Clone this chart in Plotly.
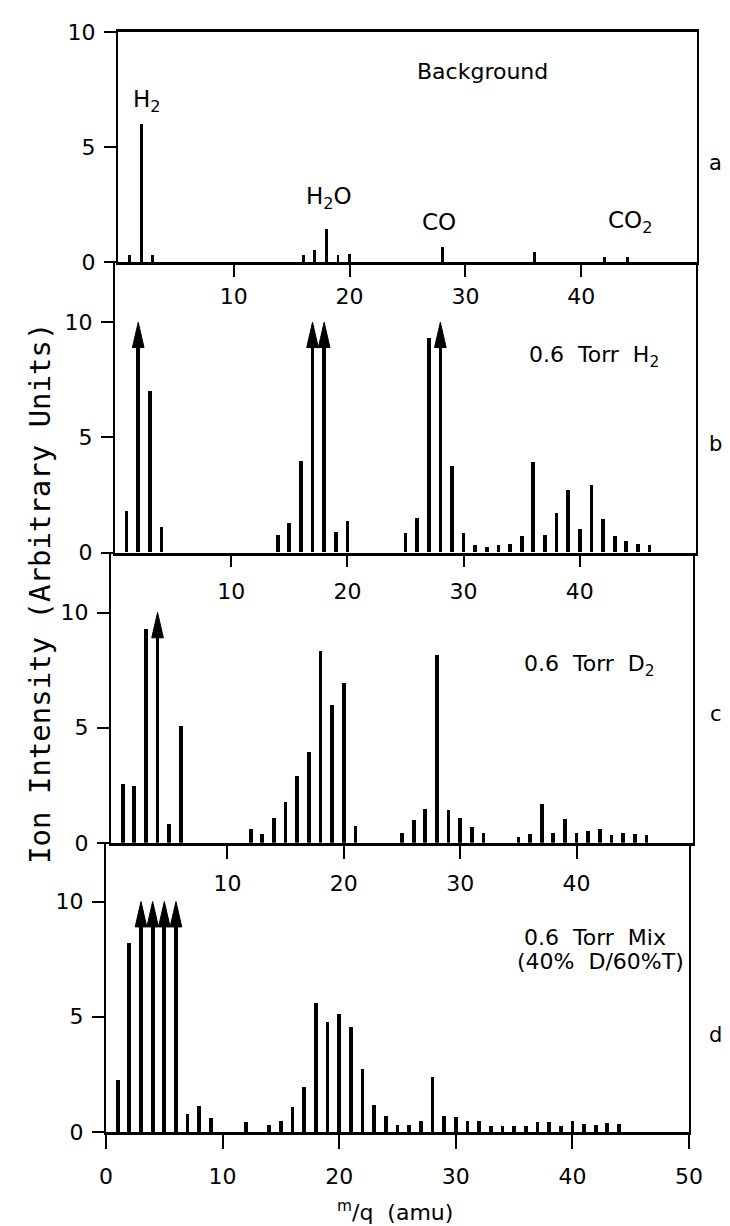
import plotly.graph_objects as go

# ---------------- data ----------------
a_mass = [1, 2, 3, 16, 17, 18, 19, 20, 28, 36, 42, 44]
a_int = [0.3, 6.0, 0.3, 0.3, 0.55, 1.45, 0.3, 0.35, 0.65, 0.45, 0.25, 0.25]
a_off = []

b_mass = [1, 2, 3, 4, 14, 15, 16, 17, 18, 19, 20, 25, 26, 27, 28, 29, 30, 31, 32, 33,
          34, 35, 36, 37, 38, 39, 40, 41, 42, 43, 44, 45, 46]
b_int = [1.8, 10, 7.0, 1.1, 0.75, 1.25, 3.95, 10, 10, 0.9, 1.35, 0.85, 1.5, 9.3, 10, 3.75,
         0.85, 0.3, 0.25, 0.3, 0.35, 0.7, 3.9, 0.75, 1.7, 2.7, 1.0, 2.9, 1.45, 0.7, 0.5, 0.35, 0.3]
b_off = [2, 17, 18, 28]

c_mass = [1, 2, 3, 4, 5, 6, 12, 13, 14, 15, 16, 17, 18, 19, 20, 21, 25, 26, 27, 28, 29, 30,
          31, 32, 35, 36, 37, 38, 39, 40, 41, 42, 43, 44, 45, 46]
c_int = [2.55, 2.5, 9.3, 10, 0.85, 5.1, 0.6, 0.4, 1.1, 1.8, 2.9, 3.95, 8.35, 6.0, 6.95, 0.75,
         0.45, 1.0, 1.5, 8.15, 1.45, 1.1, 0.7, 0.45, 0.25, 0.4, 1.7, 0.45, 1.05, 0.45, 0.55,
         0.6, 0.35, 0.45, 0.4, 0.35]
c_off = [4]

d_mass = [1, 2, 3, 4, 5, 6, 7, 8, 9, 12, 14, 15, 16, 17, 18, 19, 20, 21, 22, 23, 24, 25, 26,
          27, 28, 29, 30, 31, 32, 33, 34, 35, 36, 37, 38, 39, 40, 41, 42, 43, 44]
d_int = [2.25, 8.2, 10, 10, 10, 10, 0.8, 1.15, 0.6, 0.45, 0.3, 0.5, 1.1, 1.95, 5.6, 4.8, 5.15,
         4.55, 2.75, 1.2, 0.7, 0.3, 0.3, 0.5, 2.4, 0.7, 0.65, 0.5, 0.5, 0.25, 0.25, 0.25, 0.25,
         0.45, 0.45, 0.25, 0.5, 0.35, 0.3, 0.4, 0.35]
d_off = [3, 4, 5, 6]

panel_letters = ["a", "b", "c", "d"]
panel_titles = [["Background"], ["0.6  Torr  H<sub>2</sub>"], ["0.6  Torr  D<sub>2</sub>"],
                ["0.6  Torr  Mix", "(40%  D/60%T)"]]
species = ["H<sub>2</sub>", "H<sub>2</sub>O", "CO", "CO<sub>2</sub>"]
species_x = [2.5, 18.2, 27.7, 44.2]
species_y = [7.0, 2.8, 1.75, 1.75]

y_ticks = [0, 5, 10]
x_ticks_upper = [10, 20, 30, 40]
x_ticks_bottom = [0, 10, 20, 30, 40, 50]

# ---------------- figure ----------------
FONT = "DejaVu Sans, Liberation Sans, Arial, sans-serif"
TITLE_FONT = "DejaVu Sans Mono, DejaVu Sans, sans-serif"
W, H = 730, 1226
ML, MR, MT, MB = 96, 40, 21, 102

panels = [(a_mass, a_int, a_off), (b_mass, b_int, b_off),
          (c_mass, c_int, c_off), (d_mass, d_int, d_off)]

y_domains = [[0.7906, 1.0], [0.5267, 0.7906], [0.2629, 0.5267], [0.0, 0.2629]]
x_domains = [[0.0236, 0.9983], [0.0185, 0.9966], [0.0118, 0.9916], [0.0034, 0.9848]]
y_tops = [10, 12.6, 12.6, 12.55]
standoffs = [1, 5, 6, 9]
ticklens = [12, 12, 13, 14]
bar_w = [0.24, 0.32, 0.32, 0.32]
HEAD_HALF = 0.5     # arrowhead half-width (mass units)
HEAD_LEN = 1.1      # arrowhead length (intensity units)

fig = go.Figure()
annotations = []

for i, (mass, inten, off) in enumerate(panels):
    n = i + 1
    xa = "x" if n == 1 else f"x{n}"
    ya = "y" if n == 1 else f"y{n}"
    # stems: off-scale peaks stop inside their arrowhead
    bv = [v - HEAD_LEN * 0.8 if m in off else v for m, v in zip(mass, inten)]
    fig.add_trace(go.Bar(x=mass, y=bv, width=bar_w[i],
                         marker=dict(color="black", line=dict(width=0)),
                         xaxis=xa, yaxis=ya, showlegend=False, hoverinfo="skip"))
    # arrowheads for off-scale peaks
    for m, v in zip(mass, inten):
        if m in off:
            fig.add_trace(go.Scatter(
                x=[m - HEAD_HALF, m, m + HEAD_HALF, m - HEAD_HALF],
                y=[v - HEAD_LEN, v, v - HEAD_LEN, v - HEAD_LEN],
                mode="lines", fill="toself", fillcolor="black",
                line=dict(color="black", width=1), xaxis=xa, yaxis=ya,
                showlegend=False, hoverinfo="skip"))
    xkey = "xaxis" if n == 1 else f"xaxis{n}"
    ykey = "yaxis" if n == 1 else f"yaxis{n}"
    fig.layout[xkey] = dict(
        domain=x_domains[i], range=[0, 50], anchor=ya,
        tickvals=x_ticks_bottom if n == 4 else x_ticks_upper,
        ticks="outside", ticklen=ticklens[i], tickwidth=2, tickcolor="black",
        ticklabelstandoff=standoffs[i],
        showline=True, linecolor="black", linewidth=2.5,
        mirror=(n == 1), showgrid=False, zeroline=False,
        tickfont=dict(family=FONT, size=22, color="black"),
    )
    fig.layout[ykey] = dict(
        domain=y_domains[i], range=[0, y_tops[i]], anchor=xa,
        tickvals=y_ticks, ticks="outside", ticklen=12, tickwidth=1.5,
        tickcolor="black", ticklabelstandoff=4,
        showline=True, linecolor="black", linewidth=2,
        mirror=True, showgrid=False, zeroline=False,
        tickfont=dict(family=FONT, size=22, color="black"),
    )

# panel titles
title_pos = [[(31.5, 8.3)], [(41.2, 8.5)], [(41.1, 7.7)], [(41.9, 8.45), (42.4, 7.4)]]
for i, (texts, poss) in enumerate(zip(panel_titles, title_pos)):
    n = i + 1
    for t, (tx, ty) in zip(texts, poss):
        annotations.append(dict(x=tx, y=ty, xref="x" if n == 1 else f"x{n}",
                                yref="y" if n == 1 else f"y{n}", text=t,
                                showarrow=False, xanchor="center", yanchor="middle",
                                font=dict(family=FONT, size=22, color="black")))

# species labels (background panel)
for s, sx, sy in zip(species, species_x, species_y):
    annotations.append(dict(x=sx, y=sy, xref="x", yref="y", text=s, showarrow=False,
                            xanchor="center", yanchor="middle",
                            font=dict(family=FONT, size=23, color="black")))

# panel letters
letter_y = [4.3, 4.7, 5.6, 4.2]
for i, (lt, ly) in enumerate(zip(panel_letters, letter_y)):
    n = i + 1
    annotations.append(dict(x=1.03, y=ly, xref="paper", yref="y" if n == 1 else f"y{n}",
                            text=lt, showarrow=False, xanchor="center", yanchor="middle",
                            font=dict(family=FONT, size=21, color="black")))

# axis titles
annotations.append(dict(x=0.49, y=-0.072, xref="paper", yref="paper",
                        text="<sup>m</sup>/q  (amu)", showarrow=False,
                        xanchor="center", yanchor="middle",
                        font=dict(family=FONT, size=22, color="black")))
annotations.append(dict(x=-0.108, y=0.49, xref="paper", yref="paper",
                        text="Ion Intensity (Arbitrary Units)", textangle=-90,
                        showarrow=False, xanchor="center", yanchor="middle",
                        font=dict(family=TITLE_FONT, size=29, color="black")))

fig.update_layout(width=W, height=H, margin=dict(l=ML, r=MR, t=MT, b=MB),
                  paper_bgcolor="white", plot_bgcolor="white", bargap=0,
                  annotations=annotations, font=dict(family=FONT, color="black"))

fig.write_html("out.html")
